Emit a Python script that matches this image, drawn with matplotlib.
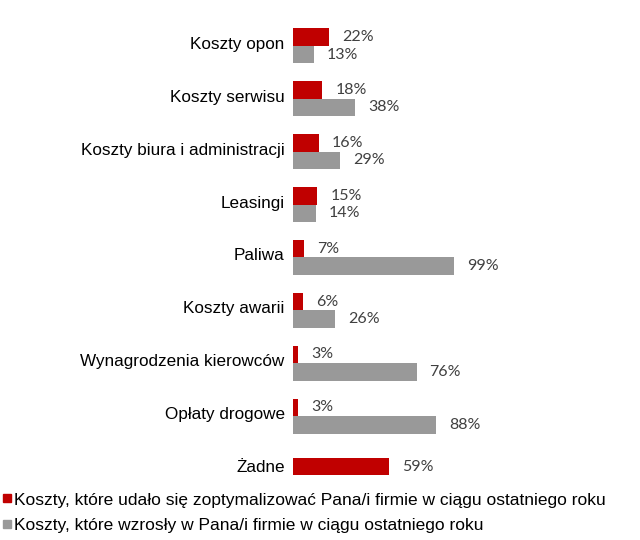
import matplotlib
matplotlib.use("Agg")
import matplotlib.pyplot as plt
from matplotlib.lines import Line2D
import numpy as np

categories = ["Koszty opon", "Koszty serwisu", "Koszty biura i administracji",
              "Leasingi", "Paliwa", "Koszty awarii", "Wynagrodzenia kierowców",
              "Opłaty drogowe", "Żadne"]
optimized = [22, 18, 16, 15, 7, 6, 3, 3, 59]
increased = [13, 38, 29, 14, 99, 26, 76, 88, None]
labels = ["Koszty, które udało się zoptymalizować Pana/i firmie w ciągu ostatniego roku",
          "Koszty, które wzrosły w Pana/i firmie w ciągu ostatniego roku"]

RED = "#c00000"
GREY = "#999999"
VAL = "#404040"

plt.rcParams["font.family"] = ["Liberation Sans", "DejaVu Sans"]

fig = plt.figure(figsize=(6.4, 5.4), dpi=100)
ax = fig.add_axes([293 / 640, (540 - 492.5) / 540, 180 / 640, 476 / 540])

h = 0.33
dy = 0.055  # bars sit slightly below the label centre
for i, (o, g) in enumerate(zip(optimized, increased)):
    if g is None:
        yo = i + 0.01
    else:
        yo = i - h / 2 + dy
        ax.barh(i + h / 2 + dy, g, height=h, color=GREY)
        ax.text(g + 8, i + h / 2 + dy, f"{g}%", va="center", ha="left",
                fontsize=11.5, color=VAL, family=["Lato", "DejaVu Sans"])
    ax.barh(yo, o, height=h, color=RED)
    ax.text(o + 8, yo, f"{o}%", va="center", ha="left",
            fontsize=11.5, color=VAL, family=["Lato", "DejaVu Sans"])

ax.set_xlim(0, 180 / 1.626)
ax.set_ylim(len(categories) - 0.5, -0.5)
ax.set_yticks(np.arange(len(categories)))
ax.set_yticklabels(categories, fontsize=12.3)
ax.tick_params(axis="y", length=0, pad=6)
ax.set_xticks([])
for s in ax.spines.values():
    s.set_visible(False)

handles = [Line2D([], [], marker="s", ls="", color=RED, markersize=6),
           Line2D([], [], marker="s", ls="", color=GREY, markersize=6)]
fig.legend(handles, labels, loc="lower left", bbox_to_anchor=(-0.009, -0.004),
           frameon=False, fontsize=12.5, handlelength=0.5, handletextpad=0.12,
           labelspacing=0.62, borderaxespad=0.1)

fig.savefig("out.png", dpi=100)
